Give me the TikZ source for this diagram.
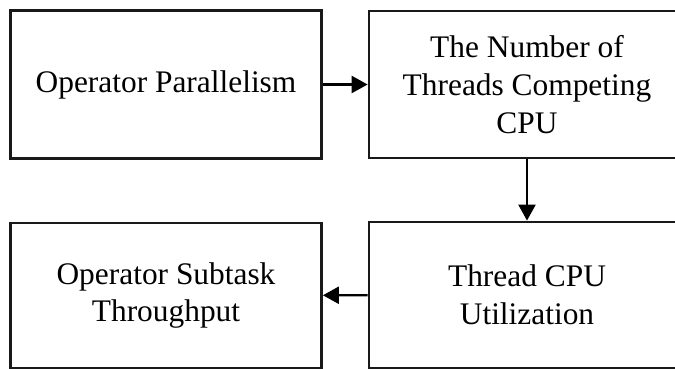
\documentclass[tikz,border=0pt]{standalone}
\usepackage{fontspec}
\setmainfont{Liberation Serif}
\usetikzlibrary{arrows.meta}

\tikzset{
  factor/.style={draw=black!90, line width=1.4pt, align=center, inner sep=0pt,
    font=\fontsize{15.7}{18.8}\selectfont},
  flow/.style={-{Triangle[length=8pt,width=8.5pt]}, line width=1.2pt, black}
}

\begin{document}
\begin{tikzpicture}[x=0.5pt,y=-0.5pt]
\useasboundingbox (0,0) rectangle (675,369);
\clip (0,0) rectangle (675,369);
% factor boxes
\node[factor, minimum width=155.5pt, minimum height=74pt] (par) at (166,84.5) {Operator Parallelism};
\node[factor, minimum width=158pt, minimum height=73.5pt] (thr) at (527,84.5) {The Number of\\Threads Competing\\CPU};
\node[factor, minimum width=158pt, minimum height=73pt] (util) at (527,295) {Thread CPU\\Utilization};
\node[factor, minimum width=155.5pt, minimum height=72.5pt] (tput) at (166,295.5) {Operator Subtask\\Throughput};
% influence arrows
\draw[flow] (par) -- (thr);
\draw[flow] (thr) -- (util);
\draw[flow] (util) -- (tput);
\end{tikzpicture}
\end{document}
